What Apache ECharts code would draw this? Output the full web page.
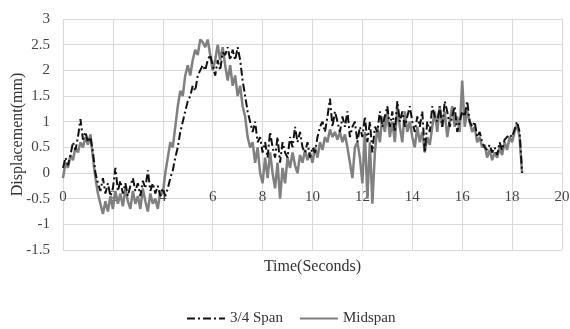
<!DOCTYPE html>
<html>
<head>
<meta charset="utf-8">
<script src="https://cdn.jsdelivr.net/npm/echarts@6/dist/echarts.min.js"></script>
<style>
  html, body { margin: 0; padding: 0; background: #fff; }
  #chart { width: 570px; height: 329px; }
</style>
</head>
<body>
<div id="chart"></div>
<script>
// sampled every 0.1 s, t = 0 .. 18.4
const timeStep = 0.1;

const midspan = [
  -0.1, 0.2, 0.1, 0.35, 0.25, 0.5, 0.4, 0.6, 0.5, 0.7,
  0.55, 0.75, 0.3, -0.1, -0.4, -0.6, -0.8, -0.55, -0.75, -0.45,
  -0.7, -0.35, -0.6, -0.4, -0.65, -0.3, -0.55, -0.7, -0.35, -0.6,
  -0.45, -0.7, -0.3, -0.55, -0.75, -0.4, -0.6, -0.5, -0.7, -0.35,
  -0.4, 0.0, 0.3, 0.6, 0.5, 0.9, 1.3, 1.6, 1.5, 1.9,
  2.1, 1.9, 2.2, 2.4, 2.3, 2.6, 2.55, 2.45, 2.6, 2.3,
  2.0, 2.2, 2.5, 2.2, 2.45, 2.1, 1.8, 2.1, 1.7, 1.9,
  1.5, 1.7, 1.3, 1.1, 0.7, 0.5, 0.6, 0.2, 0.5, 0.0,
  -0.2, 0.3, -0.1, 0.4, 0.0, -0.3, 0.2, -0.5, 0.1, -0.2,
  0.3, 0.1, 0.4, 0.15, 0.0, 0.35, 0.2, 0.45, 0.25, 0.4,
  0.2, 0.5, 0.3, 0.6, 0.45, 0.7, 0.6, 0.85, 0.7, 0.8,
  0.65, 0.8, 0.6, 0.75, 0.5, 0.2, -0.1, 0.5, 0.6, 0.3,
  -0.2, 0.8, -0.5, 0.6, -0.6, 0.4, 0.9, 0.6, 1.1, 0.8,
  1.2, 0.7, 1.0, 0.6, 1.3, 0.9, 0.6, 1.2, 0.8, 1.0,
  0.7, 0.5, 0.9, 0.6, 0.8, 0.4, 0.7, 0.55, 0.9, 1.2,
  0.8, 1.3, 0.9, 1.2, 0.7, 1.0, 1.3, 0.9, 1.1, 0.8,
  1.8, 0.9, 1.2, 1.0, 0.8, 0.9, 0.6, 0.7, 0.5, 0.55,
  0.3, 0.45, 0.25, 0.4, 0.3, 0.5, 0.35, 0.6, 0.45, 0.7,
  0.6, 0.8, 0.95, 0.7, 0.0
];

const span34 = [
  0.1, 0.3, 0.15, 0.35, 0.6, 0.45, 0.7, 1.05, 0.65, 0.8,
  0.6, 0.7, 0.4, 0.0, -0.2, -0.35, -0.1, -0.4, -0.2, -0.45,
  -0.3, 0.1, -0.35, -0.15, -0.4, -0.2, -0.45, -0.25, -0.1, -0.35,
  -0.2, -0.45, -0.15, -0.3, 0.05, -0.35, -0.2, -0.4, -0.25, -0.45,
  -0.3, -0.45, -0.3, -0.1, 0.05, 0.3, 0.5, 0.8, 1.0, 1.2,
  1.4, 1.5, 1.7, 1.6, 1.9, 2.0, 2.1, 2.0, 2.2, 2.3,
  2.1, 1.9, 2.2, 2.0, 2.35, 2.3, 2.45, 2.2, 2.4, 2.2,
  2.45, 2.2, 1.8, 1.5, 1.2, 1.0, 0.8, 1.0, 0.6, 0.7,
  0.4, 0.6, 0.3, 0.8, 0.5, 0.3, 0.7, 0.2, 0.6, 0.4,
  0.3, 0.7, 0.5, 0.9, 0.6, 0.8, 0.5, 0.4, 0.6, 0.3,
  0.5, 0.4, 0.7, 0.9, 1.0, 0.8, 1.1, 1.45, 0.9, 1.2,
  1.0, 0.8, 1.1, 0.9, 1.2, 0.7, 0.9, 1.0, 0.6, 0.9,
  0.7, 1.1, 0.6, 1.0, 0.4, 0.9, 0.8, 1.2, 0.9, 1.1,
  1.3, 0.9, 1.2, 0.8, 1.4, 1.0, 1.2, 0.9, 1.1, 1.3,
  1.0, 0.8, 1.1, 0.9, 1.2, 0.4, 1.0, 0.8, 1.3, 1.1,
  1.0, 1.3, 0.9, 1.4, 1.2, 0.9, 1.1, 1.3, 0.8, 1.0,
  1.2, 1.1, 1.4, 1.0, 0.9, 1.0, 0.7, 0.8, 0.6, 0.5,
  0.45, 0.55, 0.4, 0.5, 0.35, 0.6, 0.45, 0.65, 0.7, 0.75,
  0.7, 0.85, 1.0, 0.8, 0.0
];

function withTime(values) {
  return values.map((v, i) => [+(i * timeStep).toFixed(1), v]);
}

const serif = '"Liberation Serif", "DejaVu Serif", serif';
const chart = echarts.init(document.getElementById('chart'), null, { renderer: 'canvas' });

const option = {
  animation: false,
  textStyle: { fontFamily: serif },
  grid: { left: 63, right: 8, top: 19, bottom: 79, outerBoundsMode: 'none', containLabel: false },
  legend: {
    left: 181,
    top: 306,
    itemWidth: 38,
    itemHeight: 10,
    itemGap: 16,
    itemStyle: { opacity: 0 },
    textStyle: { fontFamily: serif, fontSize: 15, color: '#333' },
    data: ['3/4 Span', 'Midspan']
  },
  xAxis: {
    type: 'value',
    min: 0,
    max: 20,
    interval: 2,
    // axis sits on y = 0, 1.5 units above the grid bottom
    offset: -77,
    name: 'Time(Seconds)',
    nameLocation: 'middle',
    nameGap: 86,
    nameMoveOverlap: false,
    nameTextStyle: { fontFamily: serif, fontSize: 16, color: '#333', verticalAlign: 'top' },
    axisLine: { onZero: false, lineStyle: { color: '#d9d9d9' } },
    axisTick: { show: false },
    axisLabel: { margin: 17, fontFamily: serif, fontSize: 15, color: '#444' },
    splitLine: { lineStyle: { color: '#d9d9d9' } }
  },
  yAxis: {
    type: 'value',
    min: -1.5,
    max: 3,
    interval: 0.5,
    name: 'Displacement(mm)',
    nameLocation: 'middle',
    nameGap: 37,
    nameMoveOverlap: false,
    nameTextStyle: { fontFamily: serif, fontSize: 16, color: '#333' },
    axisLine: { show: false },
    axisTick: { show: false },
    axisLabel: { margin: 13, fontFamily: serif, fontSize: 15, color: '#444' },
    splitLine: { lineStyle: { color: '#d9d9d9' } }
  },
  series: [
    {
      name: '3/4 Span',
      type: 'line',
      symbol: 'none',
      data: withTime(span34),
      z: 3,
      lineStyle: { color: '#111', width: 2, type: [8, 3, 2, 3] },
      itemStyle: { color: '#111' }
    },
    {
      name: 'Midspan',
      type: 'line',
      symbol: 'none',
      data: withTime(midspan),
      z: 2,
      lineStyle: { color: '#808080', width: 2.5 },
      itemStyle: { color: '#808080' }
    }
  ]
};

chart.setOption(option);
window.addEventListener('resize', chart.resize);
</script>
</body>
</html>
